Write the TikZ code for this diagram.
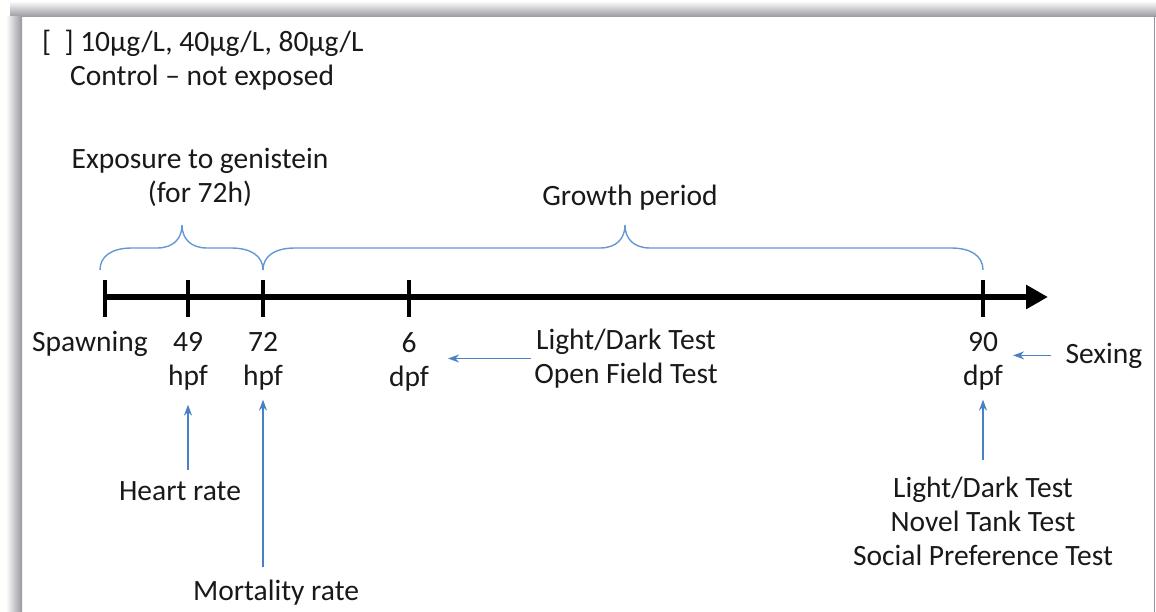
\documentclass[tikz,border=0pt]{standalone}
\usepackage{fontspec}
\setmainfont{Carlito}
\usepackage{xcolor}
\usepackage{tikz}
\usetikzlibrary{arrows.meta}

\definecolor{arrblue}{RGB}{74,128,196}
\definecolor{braceblue}{RGB}{100,152,210}
\definecolor{shadowgray}{RGB}{150,150,158}

\tikzset{
  lbl/.style={font=\fontsize{29.5}{34}\selectfont, inner sep=0pt, align=center, text=black!90},
  tickmark/.style={line width=4pt},
  bluearr/.style={draw=arrblue, line width=1.4pt, -{Stealth[length=11pt,width=8pt]}},
  bracepath/.style={draw=braceblue, line width=1.4pt},
}

\begin{document}
\begin{tikzpicture}[x=1pt, y=-1pt, >=Latex]
  \useasboundingbox (0,0) rectangle (1156,612);

  % Cornice con ombra
  \shade[top color=white, bottom color=shadowgray] (10,1) rectangle (1156,17);
  \shade[left color=white, right color=shadowgray] (6,17) rectangle (22,612);
  \draw[shadowgray, line width=1.5pt] (1154.5,17) -- (1154.5,612);

  % Concentrazioni
  \node[lbl, anchor=base west] (conc) at (42,52) {[\hspace{0.45em}] 10µg/L, 40µg/L, 80µg/L};
  \node[lbl, anchor=base west] (ctrl) at (70,86) {Control \textendash{} not exposed};

  % Asse temporale
  \draw[line width=6.5pt, -{Triangle[length=22pt,width=23pt]}] (105,297) -- (1048,297);
  \foreach \x in {105,188,263,409,983}
    \draw[tickmark] (\x,280) -- (\x,317);

  % Etichette sotto l'asse
  \node[lbl, anchor=base] (spawn) at (90,351) {Spawning};
  \node[lbl] (t49) at (188,361.5) {49\\hpf};
  \node[lbl] (t72) at (263,361.5) {72\\hpf};
  \node[lbl] (t6) at (409,361.5) {6\\dpf};
  \node[lbl] (t90) at (983,361.5) {90\\dpf};

  % Graffe
  \draw[bracepath] (100,270) .. controls (100,256) and (112,248) .. (132,248)
    -- (157,248) .. controls (174,248) and (182,238) .. (182,225)
    .. controls (182,238) and (190,248) .. (207,248)
    -- (231,248) .. controls (251,248) and (263,256) .. (263,270);
  \draw[bracepath] (263,270) .. controls (263,256) and (275,248) .. (295,248)
    -- (600,248) .. controls (617,248) and (625,238) .. (625,225)
    .. controls (625,238) and (633,248) .. (650,248)
    -- (951,248) .. controls (971,248) and (983,256) .. (983,270);
  \node[lbl] (expo) at (200,177) {Exposure to genistein\\(for 72h)};
  \node[lbl, anchor=base] (growth) at (630,206) {Growth period};

  % Test e misure
  \node[lbl] (ldof) at (626,358.5) {Light/Dark Test\\Open Field Test};
  \node[lbl, anchor=base] (sexing) at (1104,363) {Sexing};
  \node[lbl, anchor=base] (heart) at (180,500) {Heart rate};
  \node[lbl, anchor=base] (mort) at (276,600) {Mortality rate};
  \node[lbl] (adult) at (983,521) {Light/Dark Test\\Novel Tank Test\\Social Preference Test};

  % Frecce
  \draw[bluearr, shorten <=3pt, shorten >=19pt] (ldof.west) -- (ldof.west -| t6.east);
  \draw[bluearr, shorten <=14pt, shorten >=10pt] (sexing.west) -- (sexing.west -| t90.east);
  \draw[bluearr, shorten <=11pt, shorten >=14pt] (heart.north -| t49.south) -- (t49.south);
  \draw[bluearr, shorten <=12pt, shorten >=9pt] (mort.north -| t72.south) -- (t72.south);
  \draw[bluearr, shorten <=16pt, shorten >=9pt] (adult.north) -- (t90.south);
\end{tikzpicture}
\end{document}
